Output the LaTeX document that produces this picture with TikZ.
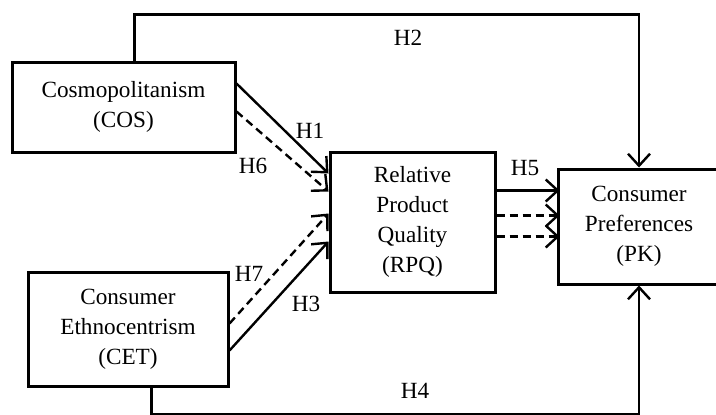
\documentclass[tikz,border=0pt]{standalone}
\usepackage{fontspec}
\setmainfont{Liberation Serif}
\usetikzlibrary{positioning, arrows.meta, calc}

\begin{document}
\begin{tikzpicture}[
    x=0.5pt, y=-0.5pt,
    font=\fontsize{11.6}{15}\selectfont,
    box/.style={draw, line width=1.5pt, align=center, inner sep=0pt},
    arr/.style={-{Straight Barb[length=6pt, width=11pt]}, line width=1.2pt},
    dsh/.style={arr, dash pattern=on 4pt off 2.5pt},
    hyp/.style={inner sep=0pt}]
    \useasboundingbox (0,0) rectangle (716,414);
    \node[box, minimum width=111.5pt, minimum height=45pt] (cos) at (123.5,107) {Cosmopolitanism\\(COS)};
    \node[box, minimum width=100pt, minimum height=57pt]   (cet) at (128,329)   {Consumer\\Ethnocentrism\\(CET)};
    \node[box, minimum width=82.5pt, minimum height=70pt]  (rpq) at (412.5,222) {Relative\\Product\\Quality\\(RPQ)};
    \node[box, minimum width=81pt, minimum height=57.5pt]  (pk)  at (639,226.5) {Consumer\\Preferences\\(PK)};
    % paths into RPQ
    \draw[arr] ($(cos.north east)+(0,23)$) -- ($(rpq.north west)+(0,23)$);
    \draw[dsh] ($(cos.north east)+(0,51)$) -- ($(rpq.north west)+(0,41)$);
    \draw[dsh] ($(cet.north east)+(0,53)$) -- ($(rpq.north west)+(0,63)$);
    \draw[arr] ($(cet.north east)+(0,80)$) -- ($(rpq.north west)+(0,91)$);
    % RPQ to PK
    \draw[arr] ($(rpq.north east)+(0,40)$) -- ($(rpq.north east)+(63,40)$);
    \draw[dsh] ($(rpq.north east)+(0,65)$) -- ($(rpq.north east)+(63,65)$);
    \draw[dsh] ($(rpq.north east)+(0,86)$) -- ($(rpq.north east)+(63,86)$);
    % direct paths
    \draw[arr] ($(cos.north west)+(124,0)$) -- ++(0,-46) -| (pk.north);
    \draw[arr] ($(cet.south west)+(125,0)$) -- ++(0,27) -| (pk.south);
    % labels
    \node[hyp] (h1) at (310,131) {H1};
    \node[hyp] (h2) at (408,38)  {H2};
    \node[hyp] (h3) at (306,304) {H3};
    \node[hyp] (h4) at (415,391) {H4};
    \node[hyp] (h5) at (525,168) {H5};
    \node[hyp] (h6) at (253,166) {H6};
    \node[hyp] (h7) at (249,274) {H7};
\end{tikzpicture}
\end{document}
